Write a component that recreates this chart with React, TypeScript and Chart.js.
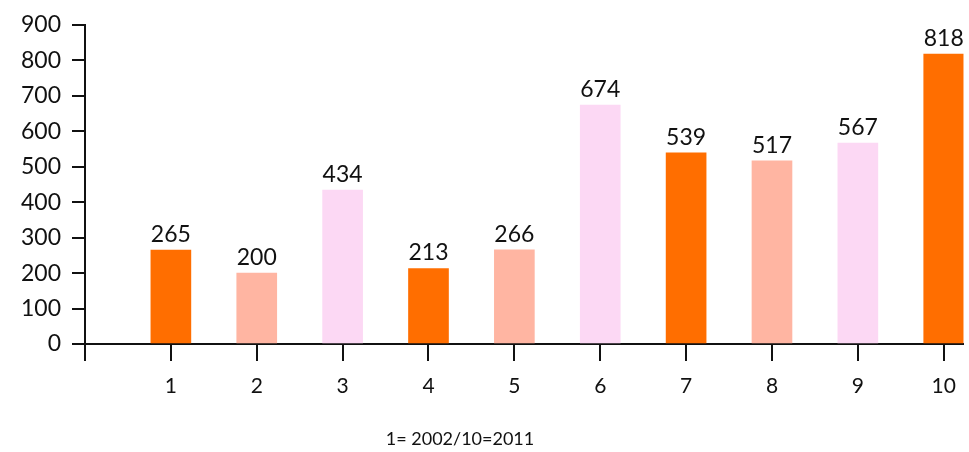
import React, { useEffect, useRef } from "react";
import { Chart, registerables } from "chart.js";

Chart.register(...registerables);

const categories = [1, 2, 3, 4, 5, 6, 7, 8, 9, 10];
const values = [265, 200, 434, 213, 266, 674, 539, 517, 567, 818];
const yTicks = [0, 100, 200, 300, 400, 500, 600, 700, 800, 900];
const xTicks = [0, 1, 2, 3, 4, 5, 6, 7, 8, 9, 10];
const footnote = "1= 2002/10=2011";

const ORANGE = "#FF6E00";
const SALMON = "#FFB5A2";
const PINK = "#FCD8F4";
const palette = [ORANGE, SALMON, PINK];

const FONT = "Lato, 'Open Sans', sans-serif";

export default function App() {
  const ref = useRef<HTMLCanvasElement | null>(null);

  useEffect(() => {
    document.body.style.margin = "0";
    const canvas = ref.current;
    if (!canvas) return;

    const labelPlugin = {
      id: "valueLabels",
      afterDatasetsDraw(chart: any) {
        const ctx = chart.ctx;
        const meta = chart.getDatasetMeta(0);
        ctx.save();
        ctx.fillStyle = "#111";
        ctx.font = `23px ${FONT}`;
        ctx.textAlign = "center";
        ctx.textBaseline = "bottom";
        meta.data.forEach((bar: any, i: number) => {
          ctx.fillText(String(values[i]), bar.x, bar.y - 4);
        });
        ctx.font = `18px ${FONT}`;
        ctx.textBaseline = "middle";
        ctx.fillText(footnote, 460, 439);
        ctx.restore();
      },
    };

    const chart = new Chart(canvas, {
      type: "bar",
      data: {
        datasets: [
          {
            data: categories.map((c, i) => ({ x: c, y: values[i] })),
            backgroundColor: categories.map((_, i) => palette[i % 3]),
            borderWidth: 0,
            barThickness: 40,
          },
        ],
      },
      options: {
        animation: false,
        responsive: false,
        devicePixelRatio: 1,
        layout: { padding: { top: 25, right: 4, left: 0, bottom: 0 } },
        plugins: {
          legend: { display: false },
          tooltip: { enabled: false },
          title: { display: false },
        },
        scales: {
          x: {
            type: "linear",
            offset: false,
            min: 0,
            max: 10.23,
            afterBuildTicks: (scale: any) => {
              scale.ticks = xTicks.map((v) => ({ value: v }));
            },
            afterFit: (scale: any) => {
              scale.height = 108;
            },
            grid: {
              offset: false,
              drawOnChartArea: false,
              drawTicks: true,
              tickLength: 17,
              color: "#111",
              lineWidth: 2,
            },
            border: { display: true, color: "#111", width: 2 },
            ticks: {
              color: "#111",
              font: { family: FONT, size: 21 },
              padding: 13,
              maxRotation: 0,
              autoSkip: false,
              callback: (v: any) => (Number(v) === 0 ? "" : String(v)),
            },
          },
          y: {
            min: 0,
            max: 900,
            afterBuildTicks: (scale: any) => {
              scale.ticks = yTicks.map((v) => ({ value: v }));
            },
            afterFit: (scale: any) => {
              scale.width = 85;
            },
            grid: {
              drawOnChartArea: false,
              drawTicks: true,
              tickLength: 13,
              color: "#111",
              lineWidth: 2,
            },
            border: { display: true, color: "#111", width: 2 },
            ticks: {
              color: "#111",
              font: { family: FONT, size: 23 },
              padding: 11,
              callback: (v: any) => String(v),
            },
          },
        },
      },
      plugins: [labelPlugin],
    } as any);

    return () => chart.destroy();
  }, []);

  return (
    <div style={{ position: "absolute", left: 0, top: 0, width: 969, height: 452, background: "#fff" }}>
      <canvas ref={ref} width={969} height={452} style={{ width: 969, height: 452, display: "block" }} />
    </div>
  );
}
